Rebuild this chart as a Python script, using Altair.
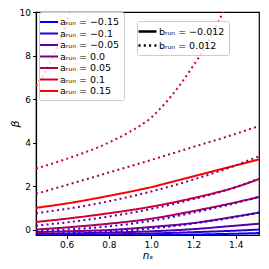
import altair as alt
import pandas as pd

# ---- data ----
a_labels = ["aᵣᵤₙ = −0.15", "aᵣᵤₙ = −0.1", "aᵣᵤₙ = −0.05", "aᵣᵤₙ = 0.0",
            "aᵣᵤₙ = 0.05", "aᵣᵤₙ = 0.1", "aᵣᵤₙ = 0.15"]
a_colors = ["#0000ff", "#2a00d5", "#5500aa", "#800080", "#aa0055", "#d5002a", "#ff0000"]
b_labels = ["bᵣᵤₙ = −0.012", "bᵣᵤₙ = 0.012"]

ns_grid = [0.455, 0.6, 0.8, 1.0, 1.2, 1.4, 1.51]

# b_run = -0.012 (solid)
solid_m015 = [-0.30, -0.29, -0.28, -0.26, -0.23, -0.19, -0.16]
solid_m010 = [-0.26, -0.25, -0.22, -0.18, -0.12, -0.05, 0.00]
solid_m005 = [-0.20, -0.18, -0.14, -0.08, 0.02, 0.18, 0.27]
solid_p000 = [-0.12, -0.08, -0.02, 0.12, 0.30, 0.60, 0.78]
solid_p005 = [0.00, 0.10, 0.27, 0.50, 0.85, 1.25, 1.50]
solid_p010 = [0.35, 0.50, 0.75, 1.05, 1.45, 1.95, 2.32]
solid_p015 = [1.00, 1.20, 1.55, 1.95, 2.45, 2.95, 3.22]

# b_run = 0.012 (dotted)
dot_m015 = [-0.20, -0.17, -0.10, 0.05, 0.28, 0.58, 0.78]
dot_m010 = [-0.07, 0.00, 0.15, 0.40, 0.78, 1.22, 1.50]
dot_m005 = [0.18, 0.33, 0.60, 0.95, 1.40, 1.95, 2.34]
dot_p000 = [0.75, 0.95, 1.30, 1.75, 2.30, 2.95, 3.37]
dot_p005 = [1.64, 2.05, 2.62, 3.20, 3.80, 4.40, 4.76]
ns_dot_p010 = [0.455, 0.6, 0.8, 0.9, 1.0, 1.07, 1.14, 1.2, 1.26, 1.305, 1.36]
dot_p010 = [2.80, 3.25, 4.00, 4.50, 5.15, 5.85, 6.70, 7.55, 8.45, 9.30, 10.40]
ns_dot_p015 = [0.455, 0.49, 0.515, 0.54, 0.565, 0.59, 0.61, 0.63]
dot_p015 = [6.60, 7.10, 7.55, 8.05, 8.65, 9.25, 9.85, 10.45]

solid_series = [solid_m015, solid_m010, solid_m005, solid_p000, solid_p005, solid_p010, solid_p015]
dot_series = [(ns_grid, dot_m015), (ns_grid, dot_m010), (ns_grid, dot_m005), (ns_grid, dot_p000),
              (ns_grid, dot_p005), (ns_dot_p010, dot_p010), (ns_dot_p015, dot_p015)]

rows = []
for i, ys in enumerate(solid_series):
    for x, y in zip(ns_grid, ys):
        rows.append({"ns": x, "beta": y, "a": a_labels[i], "b": b_labels[0], "k": i})
for i, (xs, ys) in enumerate(dot_series):
    for x, y in zip(xs, ys):
        rows.append({"ns": x, "beta": y, "a": a_labels[i], "b": b_labels[1], "k": i})
df = pd.DataFrame(rows)

FONT = "DejaVu Sans"
line_path = "M-1.8,0H1.8"

chart = alt.Chart(df).mark_line(clip=True, strokeWidth=2, interpolate="monotone", strokeCap="butt").encode(
    x=alt.X("ns:Q", scale=alt.Scale(domain=[0.455, 1.51], nice=False, zero=False),
            axis=alt.Axis(values=[0.6, 0.8, 1.0, 1.2, 1.4], format=".1f", title="nₛ",
                          titleFontStyle="italic", titleFontSize=10.5, titleFontWeight="normal",
                          titleY=20, titleBaseline="middle")),
    y=alt.Y("beta:Q", scale=alt.Scale(domain=[-0.25, 10], nice=False, zero=False),
            axis=alt.Axis(values=[0, 2, 4, 6, 8, 10], format="d", title="β",
                          titleFontStyle="italic", titleFontSize=11, titleFontWeight="normal",
                          titleX=-27, titleBaseline="top")),
    color=alt.Color("a:N", scale=alt.Scale(domain=a_labels, range=a_colors),
                    legend=alt.Legend(title=None, orient="none", legendX=3, legendY=0,
                                      symbolType=line_path, symbolSize=100, symbolStrokeWidth=2,
                                      labelFontSize=9.5, labelFont=FONT, rowPadding=0.5,
                                      padding=4, fillColor="rgba(255,255,255,0.8)",
                                      strokeColor="#cccccc", cornerRadius=2, labelOffset=5)),
    strokeDash=alt.StrokeDash("b:N", scale=alt.Scale(domain=b_labels, range=[[1, 0], [2, 3.3]]),
                              legend=alt.Legend(title=None, orient="none", legendX=101, legendY=9,
                                                symbolType=line_path, symbolSize=100,
                                                symbolStrokeWidth=2.5, symbolStrokeColor="black",
                                                labelFontSize=9.5, labelFont=FONT, rowPadding=2,
                                                padding=4, fillColor="rgba(255,255,255,0.8)",
                                                strokeColor="#cccccc", cornerRadius=2, labelOffset=5)),
    detail="k:N",
).properties(
    width=223, height=223,
    autosize=alt.AutoSizeParams(type="none"),
    padding={"left": 28, "top": 4, "right": 2, "bottom": 26},
).configure_view(
    stroke="black", strokeWidth=1.2
).configure_axis(
    grid=False, domainColor="black", domainWidth=1.2, tickColor="black", tickSize=3.5,
    tickWidth=1, labelColor="black", labelFont=FONT, labelFontSize=9, titleFont=FONT,
    titleColor="black", labelPadding=2
)

chart.save("out.html", embed_options={"renderer": "svg", "actions": False})
